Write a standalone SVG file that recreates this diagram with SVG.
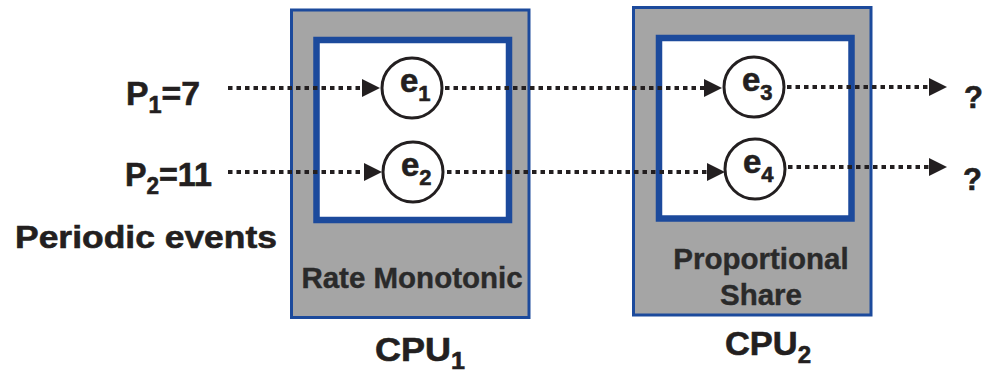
<svg xmlns="http://www.w3.org/2000/svg" width="985" height="374" viewBox="0 0 985 374">
<style>
.cpu{fill:#a5a5a5;stroke:#1c4a9c;stroke-width:3}
.inner{fill:#ffffff;stroke:#1c4a9c;stroke-width:6.5}
.ev{fill:#ffffff;stroke:#231f20;stroke-width:3}
.t{font-family:"Liberation Sans",Arial,sans-serif;font-weight:bold;fill:#231f20;stroke:#231f20;stroke-width:0.6}
.lbl{font-family:"Liberation Sans",Arial,sans-serif;font-weight:bold;fill:#2a2a2a;stroke:#2a2a2a;stroke-width:0.4}
.dot{fill:none;stroke:#231f20;stroke-width:4;stroke-dasharray:4.5 4;marker-end:url(#ah)}
</style>
<defs>
<marker id="ah" markerUnits="userSpaceOnUse" markerWidth="18" markerHeight="18" refX="0" refY="9" orient="auto">
<path d="M0,0 L18,9 L0,18 z" fill="#231f20"/>
</marker>
</defs>
<g id="cpu1">
<rect class="cpu" x="291.5" y="10" width="237.5" height="307.5"/>
<rect class="inner" x="316.5" y="40" width="192.5" height="180"/>
<text class="lbl" x="412" y="288" font-size="29.5" text-anchor="middle">Rate Monotonic</text>
<text class="t" x="375" y="361" font-size="33" textLength="90" lengthAdjust="spacingAndGlyphs">CPU<tspan font-size="23" dy="8">1</tspan></text>
</g>
<g id="cpu2">
<rect class="cpu" x="633.5" y="7.5" width="237.5" height="307.5"/>
<rect class="inner" x="659" y="38" width="192.5" height="180.5"/>
<text class="lbl" x="761" y="269" font-size="29.5" text-anchor="middle">Proportional</text>
<text class="lbl" x="761" y="305" font-size="29.5" text-anchor="middle">Share</text>
<text class="t" x="725" y="355" font-size="33" textLength="86" lengthAdjust="spacingAndGlyphs">CPU<tspan font-size="23" dy="8">2</tspan></text>
</g>
<g id="e1">
<circle class="ev" cx="412" cy="88" r="30"/>
<text class="t" x="400" y="92" font-size="33">e<tspan font-size="22" dy="9">1</tspan></text>
</g>
<g id="e2">
<circle class="ev" cx="413" cy="172" r="30"/>
<text class="t" x="401" y="176" font-size="33">e<tspan font-size="22" dy="9">2</tspan></text>
</g>
<g id="e3">
<circle class="ev" cx="754" cy="87" r="30"/>
<text class="t" x="742" y="91" font-size="33">e<tspan font-size="22" dy="9">3</tspan></text>
</g>
<g id="e4">
<circle class="ev" cx="755" cy="169" r="30"/>
<text class="t" x="743" y="173" font-size="33">e<tspan font-size="22" dy="9">4</tspan></text>
</g>
<g id="p1">
<text class="t" x="126" y="105" font-size="33" textLength="74" lengthAdjust="spacingAndGlyphs">P<tspan font-size="23" dy="8">1</tspan><tspan dy="-8">=7</tspan></text>
</g>
<g id="p2">
<text class="t" x="125" y="186" font-size="33" textLength="87" lengthAdjust="spacingAndGlyphs">P<tspan font-size="23" dy="8">2</tspan><tspan dy="-8">=11</tspan></text>
</g>
<g id="periodic">
<text class="t" x="15" y="248" font-size="32" textLength="262" lengthAdjust="spacingAndGlyphs">Periodic events</text>
</g>
<g id="out1">
<text class="t" x="964" y="108" font-size="31">?</text>
</g>
<g id="out2">
<text class="t" x="963" y="190" font-size="31">?</text>
</g>
<g id="connectors">
<line class="dot" x1="228" y1="88" x2="362" y2="88"/>
<line class="dot" x1="228" y1="172" x2="364" y2="172"/>
<line class="dot" x1="445" y1="88" x2="704" y2="88"/>
<line class="dot" x1="447" y1="172" x2="707" y2="172"/>
<line class="dot" x1="787" y1="87" x2="929" y2="87"/>
<line class="dot" x1="788" y1="167" x2="929" y2="167"/>
</g>
</svg>
